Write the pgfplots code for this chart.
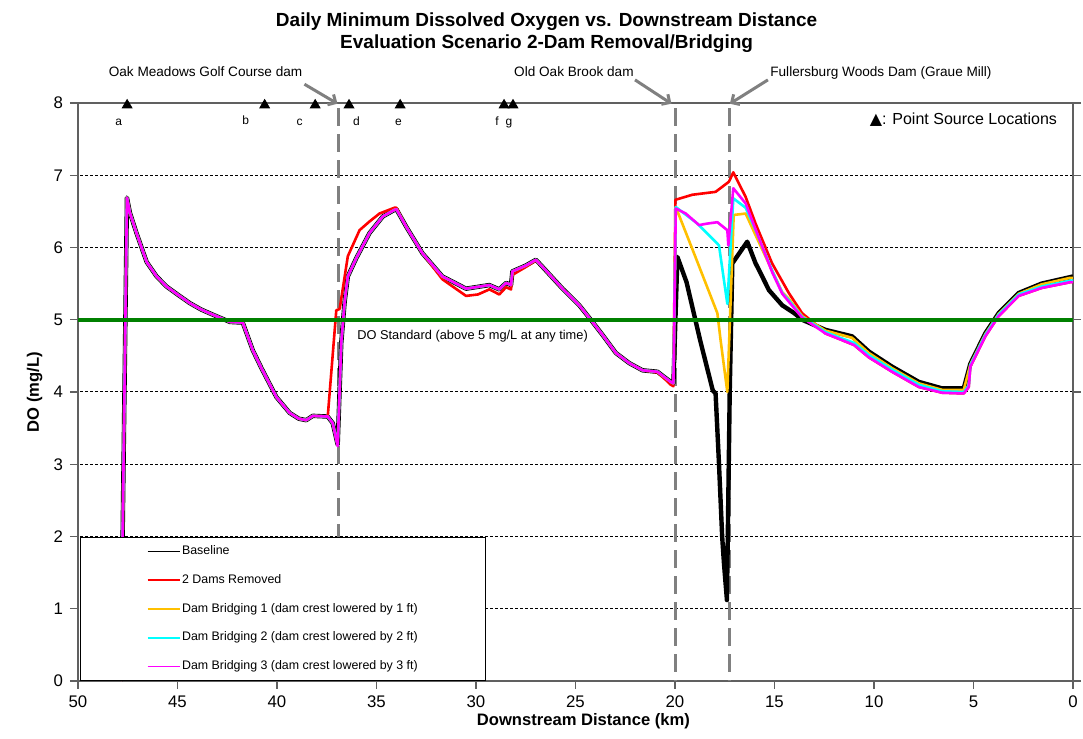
\documentclass[border=0pt]{standalone}
\usepackage{pgfplots}
\pgfplotsset{compat=1.18}
\usepackage{pgfplotstable}
\usepackage{fontspec}
\setmainfont{Liberation Sans}
\newfontfamily\dejavu{DejaVu Sans}
\usetikzlibrary{arrows.meta,calc}

\definecolor{dogreen}{RGB}{0,128,0}
\definecolor{dorange}{RGB}{255,192,0}
\definecolor{dcyan}{RGB}{0,255,255}
\definecolor{dmag}{RGB}{255,0,255}
\definecolor{damgray}{RGB}{128,128,128}

\pgfplotstableread{
x y
47.85 0.00
47.54 6.69
47.39 6.48
47.06 6.20
46.55 5.80
46.05 5.60
45.55 5.46
45.00 5.35
44.38 5.23
43.80 5.14
43.22 5.07
42.37 4.97
41.72 4.96
41.22 4.58
40.78 4.33
40.03 3.93
39.36 3.71
38.90 3.63
38.53 3.61
38.20 3.67
37.45 3.66
37.20 3.57
36.95 3.27
36.77 4.68
36.60 5.25
36.44 5.60
36.02 5.85
35.35 6.20
34.68 6.43
34.10 6.52
34.00 6.53
33.51 6.29
32.69 5.92
31.69 5.60
30.50 5.43
29.33 5.48
28.83 5.42
28.49 5.51
28.24 5.48
28.17 5.67
27.50 5.75
26.99 5.83
26.65 5.73
25.65 5.43
24.81 5.20
24.23 5.00
23.64 4.79
22.97 4.54
22.30 4.40
21.63 4.30
20.88 4.28
20.55 4.21
20.21 4.14
20.08 4.12
19.88 5.87
19.42 5.52
18.74 4.72
18.10 4.02
17.96 3.98
17.79 3.01
17.63 2.00
17.54 1.63
17.39 1.12
17.25 4.00
17.12 5.78
16.37 6.08
15.95 5.78
15.78 5.69
15.28 5.41
14.61 5.20
14.00 5.09
13.61 5.00
12.44 4.86
11.10 4.77
10.26 4.56
9.09 4.35
7.75 4.14
6.58 4.05
5.49 4.05
5.16 4.39
4.41 4.81
3.74 5.09
2.73 5.37
1.58 5.50
0.14 5.59
0.00 5.60
}\baseline

\pgfplotstableread{
x y
47.85 0.00
47.54 6.69
47.39 6.48
47.06 6.20
46.55 5.80
46.05 5.60
45.55 5.46
45.00 5.35
44.38 5.23
43.80 5.14
43.22 5.07
42.37 4.97
41.72 4.96
41.22 4.58
40.78 4.33
40.03 3.93
39.36 3.71
38.90 3.63
38.53 3.61
38.20 3.67
37.45 3.66
37.02 5.13
36.85 5.15
36.44 5.88
35.85 6.24
35.35 6.36
34.85 6.47
34.10 6.55
34.00 6.55
33.51 6.29
32.69 5.92
31.69 5.56
30.50 5.33
29.90 5.35
29.33 5.42
28.83 5.35
28.49 5.45
28.24 5.42
28.17 5.62
27.50 5.73
26.99 5.82
26.65 5.73
25.65 5.43
24.81 5.20
24.23 5.00
23.64 4.79
22.97 4.54
22.30 4.40
21.63 4.30
20.88 4.27
20.55 4.19
20.21 4.10
20.08 4.08
19.98 6.66
19.13 6.73
17.96 6.77
17.29 6.91
17.07 7.04
16.45 6.70
15.95 6.33
15.12 5.78
14.28 5.37
13.61 5.09
12.77 4.90
12.44 4.81
11.80 4.74
11.00 4.65
10.26 4.48
9.09 4.28
7.75 4.07
6.58 3.99
5.49 3.98
5.24 4.07
5.16 4.35
4.41 4.77
3.74 5.05
2.73 5.33
1.58 5.44
0.14 5.52
0.00 5.52
}\removed

\pgfplotstableread{
x y
47.85 0.00
47.54 6.69
47.39 6.48
47.06 6.20
46.55 5.80
46.05 5.60
45.55 5.46
45.00 5.35
44.38 5.23
43.80 5.14
43.22 5.07
42.37 4.97
41.72 4.96
41.22 4.58
40.78 4.33
40.03 3.93
39.36 3.71
38.90 3.63
38.53 3.61
38.20 3.67
37.45 3.66
37.20 3.57
36.95 3.27
36.77 4.68
36.60 5.25
36.44 5.60
36.02 5.85
35.35 6.20
34.68 6.43
34.10 6.52
34.00 6.53
33.51 6.29
32.69 5.92
31.69 5.60
30.50 5.43
29.33 5.48
28.83 5.42
28.49 5.51
28.24 5.48
28.17 5.67
27.50 5.75
26.99 5.83
26.65 5.73
25.65 5.43
24.81 5.20
24.23 5.00
23.64 4.79
22.97 4.54
22.30 4.40
21.63 4.30
20.88 4.28
20.55 4.21
20.21 4.14
20.08 4.12
19.96 6.56
18.96 5.86
17.87 5.09
17.71 4.72
17.37 4.00
17.05 6.45
16.45 6.47
16.10 6.26
15.95 6.17
15.12 5.68
14.61 5.38
14.28 5.29
13.61 5.05
12.44 4.85
11.10 4.75
10.26 4.54
9.09 4.33
7.75 4.12
6.58 4.03
5.49 4.03
5.16 4.38
4.41 4.80
3.74 5.08
2.73 5.36
1.58 5.49
0.14 5.58
0.00 5.58
}\bridgeone

\pgfplotstableread{
x y
47.85 0.00
47.54 6.69
47.39 6.48
47.06 6.20
46.55 5.80
46.05 5.60
45.55 5.46
45.00 5.35
44.38 5.23
43.80 5.14
43.22 5.07
42.37 4.97
41.72 4.96
41.22 4.58
40.78 4.33
40.03 3.93
39.36 3.71
38.90 3.63
38.53 3.61
38.20 3.67
37.45 3.66
37.20 3.57
36.95 3.27
36.77 4.68
36.60 5.25
36.44 5.60
36.02 5.85
35.35 6.20
34.68 6.43
34.10 6.52
34.00 6.53
33.51 6.29
32.69 5.92
31.69 5.60
30.50 5.43
29.33 5.48
28.83 5.42
28.49 5.51
28.24 5.48
28.17 5.67
27.50 5.75
26.99 5.83
26.65 5.73
25.65 5.43
24.81 5.20
24.23 5.00
23.64 4.79
22.97 4.54
22.30 4.40
21.63 4.30
20.88 4.28
20.55 4.21
20.21 4.14
20.08 4.12
19.96 6.56
18.87 6.33
17.79 6.03
17.37 5.22
17.07 6.68
16.45 6.55
15.95 6.24
15.12 5.68
14.61 5.37
14.28 5.27
13.61 5.04
12.44 4.83
11.80 4.76
11.00 4.68
10.26 4.51
9.09 4.31
7.75 4.10
6.58 4.01
5.49 4.00
5.24 4.09
5.16 4.37
4.41 4.79
3.74 5.07
2.73 5.35
1.58 5.46
0.14 5.54
0.00 5.54
}\bridgetwo

\pgfplotstableread{
x y
47.85 0.00
47.54 6.69
47.39 6.48
47.06 6.20
46.55 5.80
46.05 5.60
45.55 5.46
45.00 5.35
44.38 5.23
43.80 5.14
43.22 5.07
42.37 4.97
41.72 4.96
41.22 4.58
40.78 4.33
40.03 3.93
39.36 3.71
38.90 3.63
38.53 3.61
38.20 3.67
37.45 3.66
37.20 3.57
36.95 3.25
36.77 4.68
36.60 5.25
36.44 5.60
36.02 5.85
35.35 6.20
34.68 6.43
34.10 6.52
34.00 6.53
33.51 6.29
32.69 5.92
31.69 5.60
30.50 5.43
29.33 5.48
28.83 5.42
28.49 5.51
28.24 5.48
28.17 5.67
27.50 5.75
26.99 5.83
26.65 5.73
25.65 5.43
24.81 5.20
24.23 5.00
23.64 4.79
22.97 4.54
22.30 4.40
21.63 4.30
20.88 4.28
20.55 4.21
20.21 4.14
20.08 4.12
19.96 6.54
19.46 6.47
18.79 6.31
18.40 6.33
17.87 6.35
17.37 6.24
17.32 6.03
17.07 6.82
16.45 6.61
15.95 6.25
15.12 5.66
14.61 5.36
14.28 5.25
13.61 5.03
12.44 4.81
11.80 4.74
11.00 4.65
10.26 4.48
9.09 4.28
7.75 4.07
6.58 3.99
5.49 3.98
5.24 4.07
5.16 4.35
4.41 4.77
3.74 5.05
2.73 5.33
1.58 5.44
0.14 5.52
0.00 5.52
}\bridgethree

\pgfplotstableread{
x y
47.53 7.97
40.62 7.97
38.08 7.97
36.38 7.97
33.81 7.97
28.59 7.97
28.14 7.97
}\sources

\begin{document}
\begin{tikzpicture}
\begin{axis}[
  scale only axis, width=497.5pt, height=289pt,
  xmin=0, xmax=50, ymin=0, ymax=8, x dir=reverse,
  xtick={0,5,...,50}, ytick={1,...,7},
  extra y ticks={0,8}, extra y tick style={grid=none},
  clip=false,
  axis line style={draw=gray!75!black, line width=0.7pt},
  tick align=outside, major tick length=4pt,
  tick style={draw=gray!75!black, line width=0.6pt},
  xtick pos=bottom, ytick pos=both, yticklabel pos=left,
  ticklabel style={font=\fontsize{8.4}{10}\selectfont},
  /pgf/number format/assume math mode=true,
  ymajorgrids=true,
  major grid style={black, line width=0.5pt, dash pattern=on 1.5pt off 1pt},
  xlabel={Downstream Distance (km)}, ylabel={DO (mg/L)},
  label style={font=\bfseries\fontsize{8.3}{10}\selectfont},
  xlabel style={at={(axis description cs:0.508,0)}, anchor=base, yshift=-22.5pt},
  ylabel style={at={(axis description cs:0,0.5)}, anchor=base, yshift=19.5pt},
  legend style={at={(axis description cs:0.002,0)}, anchor=south west,
    draw=black, fill=white, font=\fontsize{6.2}{7}\selectfont,
    inner xsep=33.2pt, inner ysep=3.2pt, row sep=6.8pt,
    nodes={inner sep=0.8pt, text height=4.6pt, text depth=1.4pt}},
  legend cell align=left,
  legend image code/.code={\draw[#1, line width=0.85pt] (0pt,0pt) -- (16pt,0pt);},
]
% dam locations
\addplot[forget plot, damgray, line width=1.5pt, dash pattern=on 9pt off 4pt] coordinates {(36.9,7.93) (36.9,0)};
\addplot[forget plot, damgray, line width=1.5pt, dash pattern=on 9pt off 4pt] coordinates {(20.0,7.93) (20.0,0)};
\addplot[forget plot, damgray, line width=1.5pt, dash pattern=on 9pt off 4pt] coordinates {(17.25,7.93) (17.25,0)};

\addplot[black, line width=2.2pt, line join=round] table {\baseline};
\addlegendentry{Baseline}
\addplot[red, line width=1.3pt, line join=round] table {\removed};
\addlegendentry{2 Dams Removed}
\addplot[dorange, line width=1.3pt, line join=round] table {\bridgeone};
\addlegendentry{Dam Bridging 1 (dam crest lowered by 1 ft)}
\addplot[dcyan, line width=1.3pt, line join=round] table {\bridgetwo};
\addlegendentry{Dam Bridging 2 (dam crest lowered by 2 ft)}
\addplot[dmag, line width=1.3pt, line join=round] table {\bridgethree};
\addlegendentry{Dam Bridging 3 (dam crest lowered by 3 ft)}

% DO standard
\addplot[forget plot, dogreen, line width=2pt] coordinates {(50,5) (0,5)};
% point sources
\addplot[forget plot, only marks, mark=triangle*, mark size=2.8pt, black] table {\sources};

\node[anchor=base west, font=\fontsize{6.4}{8}\selectfont] at (axis cs:36.32,4.725) {DO Standard (above 5 mg/L at any time)};
\node[anchor=base east, font=\fontsize{8}{10}\selectfont] at (axis cs:0.45,7.70) {{\dejavu ▲}: Point Source Locations};

\begin{scope}[font=\fontsize{6}{7}\selectfont]
\node[anchor=base] at (axis cs:47.95,7.685) {a};
\node[anchor=base] at (axis cs:41.57,7.70) {b};
\node[anchor=base] at (axis cs:38.86,7.685) {c};
\node[anchor=base] at (axis cs:36.01,7.685) {d};
\node[anchor=base] at (axis cs:33.89,7.685) {e};
\node[anchor=base] at (axis cs:28.94,7.685) {f};
\node[anchor=base] at (axis cs:28.34,7.685) {g};
\end{scope}

\begin{scope}[font=\fontsize{6.8}{8}\selectfont]
\node[anchor=base] at (axis cs:43.59,8.365) {Oak Meadows Golf Course dam};
\node[anchor=base] at (axis cs:25.08,8.365) {Old Oak Brook dam};
\node[anchor=base] at (axis cs:9.65,8.365) {Fullersburg Woods Dam (Graue Mill)};
\end{scope}
\draw[damgray, line width=1.5pt, -{Straight Barb[length=3pt,width=6pt]}] (axis cs:38.62,8.26) -- (axis cs:36.96,7.99);
\draw[damgray, line width=1.5pt, -{Straight Barb[length=3pt,width=6pt]}] (axis cs:22.01,8.32) -- (axis cs:20.18,7.99);
\draw[damgray, line width=1.5pt, -{Straight Barb[length=3pt,width=6pt]}] (axis cs:15.33,8.32) -- (axis cs:17.24,7.99);

\node[anchor=base, font=\bfseries\fontsize{9.5}{11}\selectfont, yshift=38.1pt] at (axis description cs:0.471,1) {Daily Minimum Dissolved Oxygen vs. Downstream Distance};
\node[anchor=base, font=\bfseries\fontsize{9.5}{11}\selectfont, yshift=27.1pt] at (axis description cs:0.471,1) {Evaluation Scenario 2-Dam Removal/Bridging};

\coordinate (bbsw) at (axis description cs:0,0);
\coordinate (bbne) at (axis description cs:1,1);
\end{axis}
\pgfresetboundingbox
\path[use as bounding box] ($(bbsw)+(-39pt,-29pt)$) rectangle ($(bbne)+(5pt,51.5pt)$);
\end{tikzpicture}
\end{document}
